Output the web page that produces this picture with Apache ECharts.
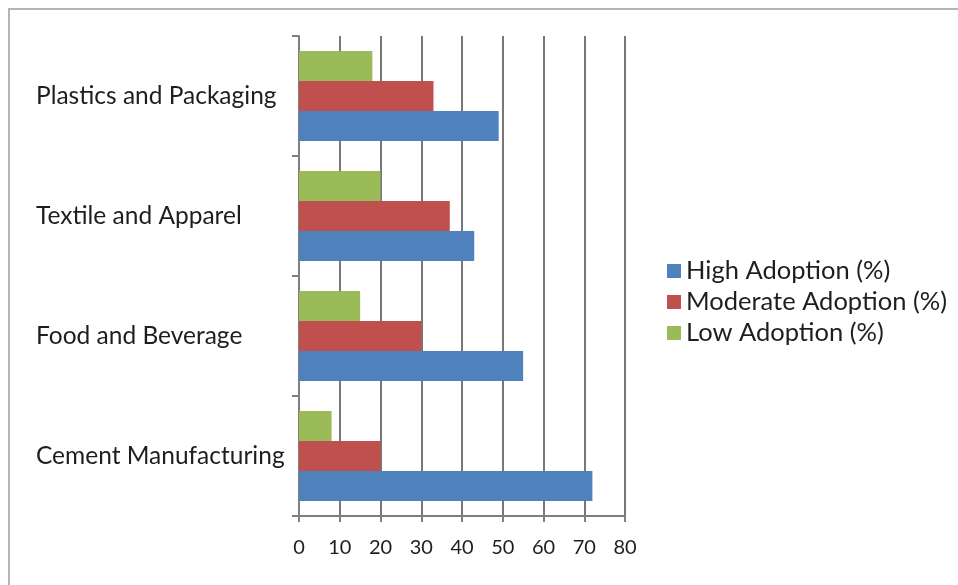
<!DOCTYPE html>
<html>
<head>
<meta charset="utf-8">
<script src="https://cdn.jsdelivr.net/npm/echarts@6/dist/echarts.min.js"></script>
<style>
  html, body { margin: 0; padding: 0; background: #ffffff; }
  #chart { width: 958px; height: 585px; }
</style>
</head>
<body>
<div id="chart"></div>
<script>
// Industries, listed bottom to top along the category axis
const industries = ['Cement Manufacturing', 'Food and Beverage', 'Textile and Apparel', 'Plastics and Packaging'];

// Adoption shares (%) per industry
const highAdoption = [72, 55, 43, 49];
const moderateAdoption = [20, 30, 37, 33];
const lowAdoption = [8, 15, 20, 18];

const seriesNames = ['High Adoption (%)', 'Moderate Adoption (%)', 'Low Adoption (%)'];
const valueTicks = [0, 10, 20, 30, 40, 50, 60, 70, 80];

const FONT = 'Lato';
const chart = echarts.init(document.getElementById('chart'), null, { renderer: 'canvas' });

const barSeries = (name, data, color) => ({
  name: name,
  type: 'bar',
  data: data,
  barGap: '0%',
  barCategoryGap: '25%',
  itemStyle: { color: color },
  emphasis: { disabled: true }
});

chart.setOption({
  animation: false,
  backgroundColor: '#ffffff',
  textStyle: { fontFamily: FONT },
  graphic: [{
    type: 'rect',
    shape: { x: 9, y: 9, width: 1200, height: 1200 },
    style: { fill: 'none', stroke: '#b4b4b4', lineWidth: 2 },
    silent: true
  }],
  grid: { left: 299, right: 333, top: 36, bottom: 69, containLabel: false },
  legend: {
    orient: 'vertical',
    left: 662,
    top: 253,
    itemWidth: 14,
    itemHeight: 14,
    itemGap: 5,
    icon: 'rect',
    data: seriesNames,
    textStyle: { fontFamily: FONT, fontSize: 25.5, color: '#1e1e1e' },
    selectedMode: false
  },
  xAxis: {
    type: 'value',
    min: valueTicks[0],
    max: valueTicks[valueTicks.length - 1],
    interval: 10,
    axisLine: { show: true, lineStyle: { color: '#7f7f7f', width: 2 } },
    axisTick: { show: true, length: 6, lineStyle: { color: '#7f7f7f', width: 2 } },
    axisLabel: { fontFamily: FONT, fontSize: 20, color: '#1e1e1e', margin: 22 },
    splitLine: { show: true, lineStyle: { color: '#4a4a4a', width: 1.5 } }
  },
  yAxis: {
    type: 'category',
    data: industries,
    axisLine: { show: true, lineStyle: { color: '#7f7f7f', width: 2 } },
    axisTick: { show: true, length: 7, lineStyle: { color: '#7f7f7f', width: 2 } },
    axisLabel: { fontFamily: FONT, fontSize: 24.5, color: '#1e1e1e', align: 'left', margin: 263 },
    splitLine: { show: false }
  },
  // Listed low to high so that High sits at the bottom of each group
  series: [
    barSeries(seriesNames[2], lowAdoption, '#9bbb59'),
    barSeries(seriesNames[1], moderateAdoption, '#c0504d'),
    barSeries(seriesNames[0], highAdoption, '#4f81bd')
  ]
});
</script>
</body>
</html>
